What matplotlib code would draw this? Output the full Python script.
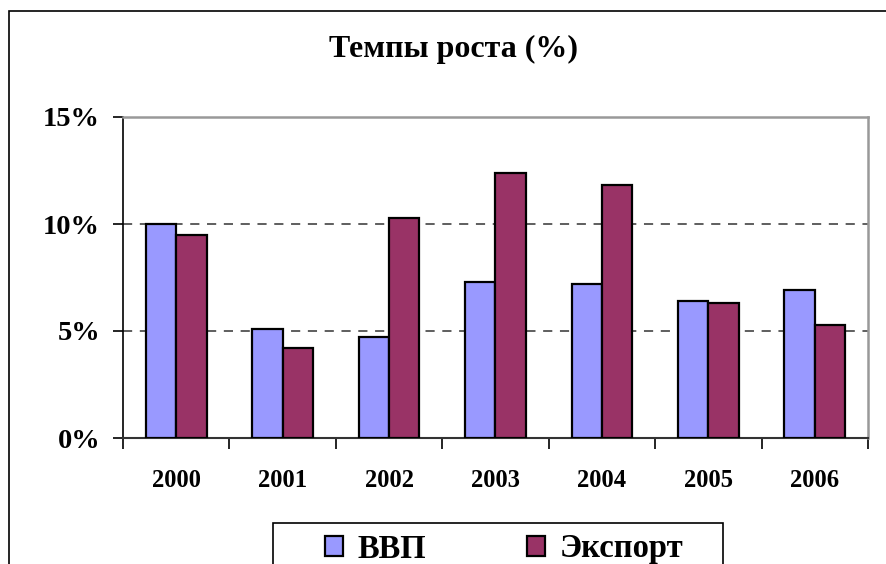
import matplotlib
matplotlib.use("Agg")
import matplotlib.pyplot as plt
from matplotlib.patches import Rectangle, Patch
import numpy as np

years = ["2000", "2001", "2002", "2003", "2004", "2005", "2006"]
gdp = [10.0, 5.1, 4.7, 7.3, 7.2, 6.4, 6.9]
export = [9.5, 4.2, 10.3, 12.4, 11.8, 6.3, 5.3]
series_names = ["ВВП", "Экспорт"]
yticks = [0, 5, 10, 15]
ytick_labels = ["0%", "5%", "10%", "15%"]
title = "Темпы роста (%)"

W, H = 887, 564
fig = plt.figure(figsize=(W / 100, H / 100), dpi=100)
plt.rcParams['font.family'] = ['Liberation Serif', 'DejaVu Serif']

# outer chart border
fig.patches.append(Rectangle((9 / W, -0.1), 1.2, 1 - 11 / H + 0.1, transform=fig.transFigure,
                             fill=False, edgecolor='black', linewidth=1.2))

ax = fig.add_axes([123 / W, (H - 438) / H, 745 / W, 321 / H])
x = np.arange(len(years))
bw = 0.285
ax.bar(x - bw / 2, gdp, bw, color='#9999ff', edgecolor='black', linewidth=1.6, zorder=3)
ax.bar(x + bw / 2, export, bw, color='#993366', edgecolor='black', linewidth=1.6, zorder=3)

ax.set_xlim(-0.5, len(years) - 0.5)
ax.set_ylim(0, 15)
ax.set_yticks(yticks)
ax.set_yticklabels(ytick_labels, fontsize=20.5, fontweight='bold')
ax.set_xticks(x)
ax.set_xticklabels(years, fontsize=17.7, fontweight='bold')
ax.tick_params(axis='x', length=0, pad=22)
ax.tick_params(axis='y', length=7, width=1.2, direction='out', pad=9.5)
# category boundary ticks
ax.set_xticks(np.arange(len(years) + 1) - 0.5, minor=True)
ax.tick_params(axis='x', which='minor', length=8, width=1.2, direction='out')

for v in [5, 10]:
    ax.axhline(v, color='#333333', linestyle=(0, (6, 5)), linewidth=1.1, zorder=1)

ax.spines['left'].set_color('black')
ax.spines['left'].set_linewidth(1.2)
ax.spines['bottom'].set_color('#333333')
ax.spines['bottom'].set_linewidth(1.5)
for s in ['top', 'right']:
    ax.spines[s].set_color('#999999')
    ax.spines[s].set_linewidth(1.8)

fig.text(454 / W, 1 - 49 / H, title, ha='center', va='center', fontsize=23, fontweight='bold')

# legend box
fig.patches.append(Rectangle((273 / W, -0.1), 450 / W, 0.1 + (H - 523) / H,
                             transform=fig.transFigure, fill=False, edgecolor='black', linewidth=1.2))
handles = [Patch(facecolor='#9999ff', edgecolor='black', linewidth=1.6),
           Patch(facecolor='#993366', edgecolor='black', linewidth=1.6)]
leg = fig.legend(handles, series_names, loc='center left', bbox_to_anchor=(325 / W, 1 - 549 / H),
                 ncol=2, frameon=False, prop={'family': 'Liberation Serif', 'weight': 'bold', 'size': 23.5},
                 handlelength=0.55, handleheight=0.55, handletextpad=0.45, columnspacing=3.1,
                 borderpad=0, borderaxespad=0)

fig.savefig("out.png", dpi=100)
